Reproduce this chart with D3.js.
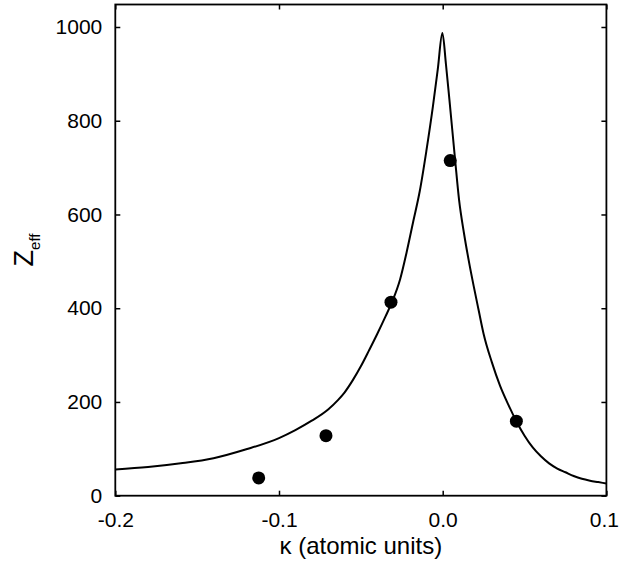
<!DOCTYPE html>
<html>
<head>
<meta charset="utf-8">
<script src="https://cdn.jsdelivr.net/npm/d3@7"></script>
<style>
  html, body { margin: 0; padding: 0; background: #fff; }
  svg { display: block; }
  text { font-family: "Liberation Sans", Arial, sans-serif; fill: #000; }
</style>
</head>
<body>
<svg id="chart" width="619" height="579"></svg>
<script>
// ---- data ----
const curveKappa = [-0.200, -0.180, -0.160, -0.140, -0.120, -0.100, -0.090, -0.080, -0.070, -0.064, -0.060, -0.055, -0.050, -0.045, -0.040, -0.035, -0.031, -0.026, -0.022, -0.018, -0.014, -0.010, -0.006, -0.003, -0.0002,
                    0.002, 0.0041, 0.0076, 0.010, 0.013, 0.016, 0.019, 0.022, 0.025, 0.030, 0.035, 0.040, 0.045, 0.050, 0.055, 0.060, 0.065, 0.070, 0.075, 0.080, 0.085, 0.090, 0.095, 0.100];
const curveZeff  = [56, 61, 69, 80, 99, 123, 140, 160, 184, 204, 220, 246, 276, 310, 345, 382, 413, 462, 520, 585, 650, 735, 830, 910, 987,
                    920, 845, 716, 631, 560, 500, 446, 395, 345, 285, 235, 195, 159, 128, 103, 84, 69, 58, 50, 42, 36, 32, 29, 26];
const pointKappa = [-0.1124, -0.0713, -0.0316, 0.0046, 0.0450];
const pointZeff  = [38, 128, 413, 715, 159];
const xTicks = [-0.2, -0.1, 0.0, 0.1];
const yTicks = [0, 200, 400, 600, 800, 1000];
const xLabel = "κ (atomic units)";

// ---- layout ----
const svg = d3.select("#chart");
const mL = 115.3, mR = 606.4, mT = 4.5, mB = 495.7;
const x = d3.scaleLinear().domain([-0.2, 0.1]).range([mL, mR]);
const y = d3.scaleLinear().domain([0, 1048]).range([mB, mT]);

// curve
const line = d3.line()
  .x((d, i) => x(curveKappa[i]))
  .y((d, i) => y(curveZeff[i]))
  .curve(d3.curveMonotoneX);
svg.append("path")
  .datum(curveKappa)
  .attr("d", line)
  .attr("fill", "none")
  .attr("stroke", "#000")
  .attr("stroke-width", 2)
  .attr("stroke-linejoin", "round");

// points
svg.append("g").selectAll("circle")
  .data(pointKappa)
  .join("circle")
  .attr("cx", (d) => x(d))
  .attr("cy", (d, i) => y(pointZeff[i]))
  .attr("r", 6.5)
  .attr("fill", "#000");

// axes (ticks inward on all sides)
const tickLen = 5;
const fmtX = (d) => d3.format(".1f")(d).replace("\u2212", "-");
const axBottom = d3.axisBottom(x).tickValues(xTicks).tickSize(-tickLen).tickPadding(16).tickFormat(fmtX);
const axTop = d3.axisTop(x).tickValues(xTicks).tickSize(-tickLen).tickFormat("");
const axLeft = d3.axisLeft(y).tickValues(yTicks).tickSize(-tickLen).tickPadding(13).tickFormat(d3.format("d"));
const axRight = d3.axisRight(y).tickValues(yTicks).tickSize(-tickLen).tickFormat("");

function style(g) {
  g.select(".domain").remove();
  g.selectAll(".tick line").attr("stroke", "#000").attr("stroke-width", 1.5);
  g.selectAll(".tick text").style("font-size", "21px").style("font-family", "'Liberation Sans', Arial, sans-serif").attr("fill", "#000");
}
const gB = svg.append("g").attr("transform", `translate(0,${mB})`).call(axBottom).call(style);
// keep the last label inside the page edge
gB.selectAll(".tick text").filter((d) => d === xTicks[xTicks.length - 1]).attr("dx", -2.5);
svg.append("g").attr("transform", `translate(0,${mT})`).call(axTop).call(style);
svg.append("g").attr("transform", `translate(${mL},0)`).call(axLeft).call(style);
svg.append("g").attr("transform", `translate(${mR},0)`).call(axRight).call(style);

// frame
svg.append("rect")
  .attr("x", mL).attr("y", mT)
  .attr("width", mR - mL).attr("height", mB - mT)
  .attr("fill", "none").attr("stroke", "#000").attr("stroke-width", 1.8);

// x label
svg.append("text")
  .attr("x", (mL + mR) / 2)
  .attr("y", 554)
  .attr("text-anchor", "middle")
  .style("font-size", "24px")
  .text(xLabel);

// y label: Z with subscript eff, rotated
const yl = svg.append("text")
  .attr("transform", "translate(33,250) rotate(-90)")
  .attr("text-anchor", "middle")
  .style("font-size", "27px");
yl.append("tspan").text("Z");
yl.append("tspan").attr("dy", 7).style("font-size", "15px").text("eff");
</script>
</body>
</html>
